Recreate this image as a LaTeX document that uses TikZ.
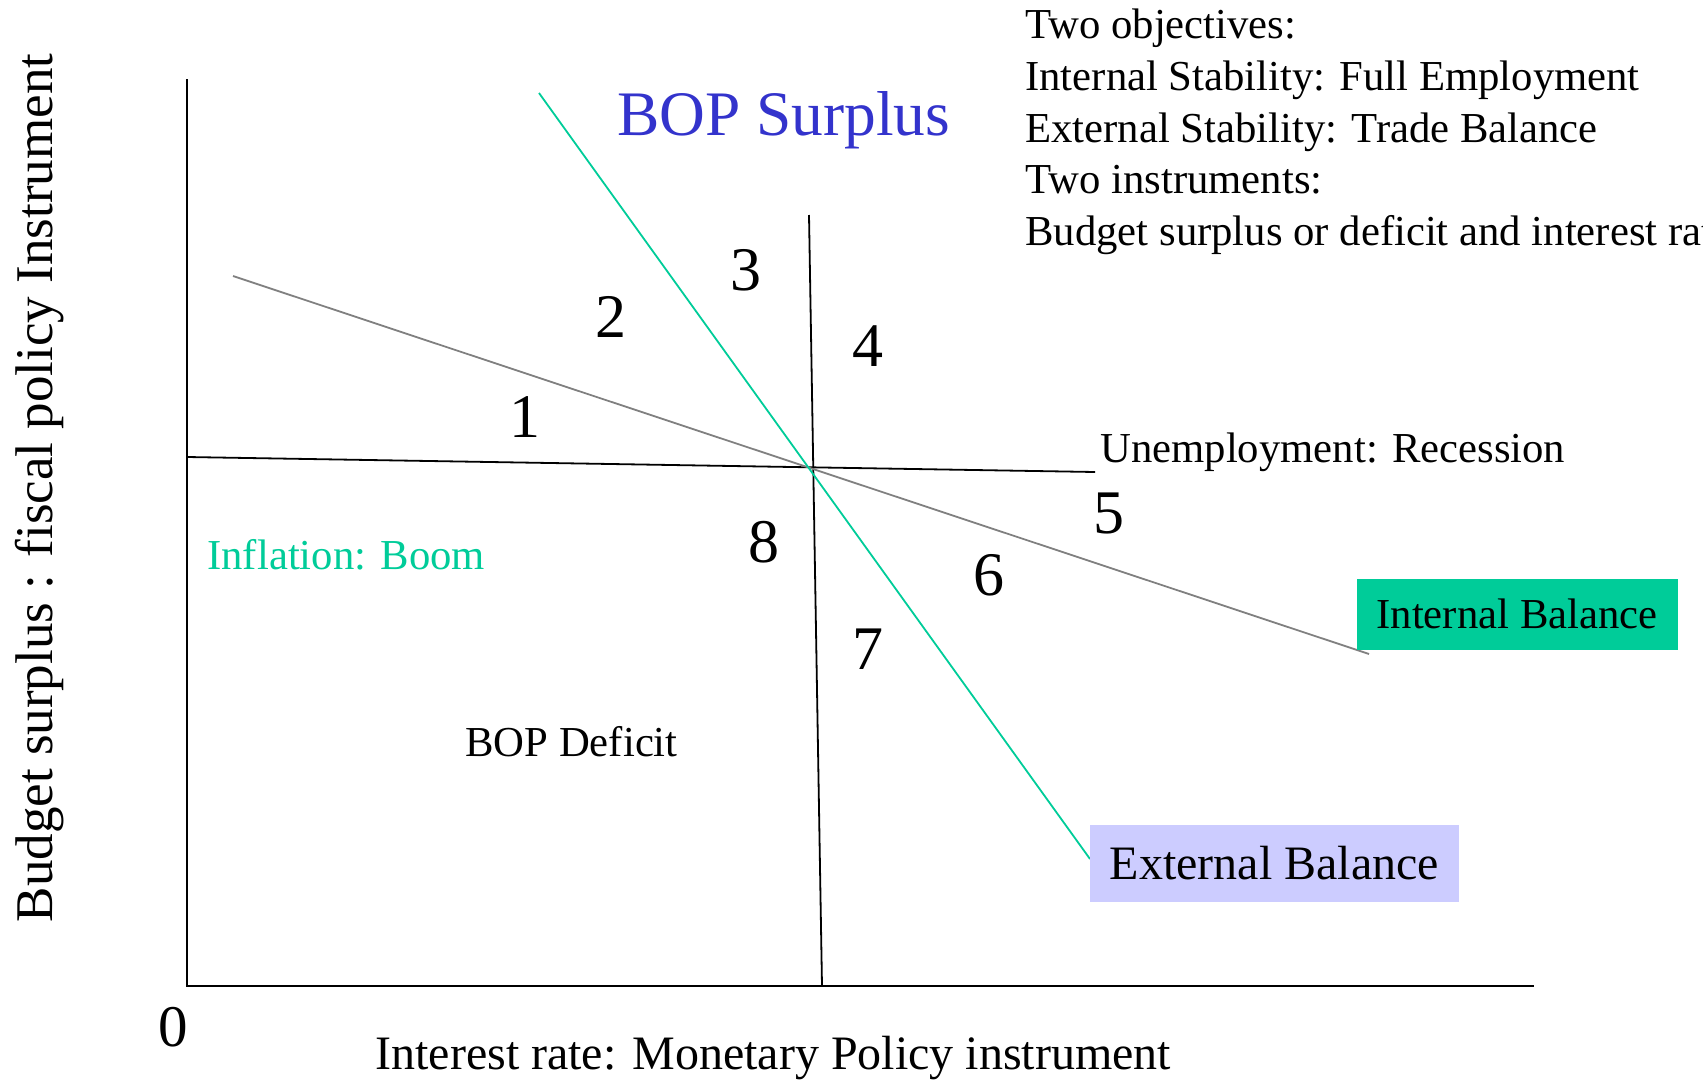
\documentclass[tikz,border=0pt]{standalone}
\usepackage{fontspec}
\setmainfont{Liberation Serif}
\definecolor{egreen}{HTML}{00CC99}
\definecolor{bopblue}{HTML}{3333CC}
\definecolor{lav}{HTML}{CCCCFF}
\definecolor{igray}{HTML}{808080}
\begin{document}
\begin{tikzpicture}[x=0.5pt,y=-0.5pt,
  txt/.style={inner sep=0pt, font=\fontsize{21.35pt}{25.6pt}\selectfont},
  num/.style={inner sep=0pt, font=\fontsize{31pt}{37pt}\selectfont},
  blackline/.style={draw=black, line width=0.9pt},
  grayline/.style={draw=igray, line width=0.9pt},
  greenline/.style={draw=egreen, line width=0.9pt}]
\useasboundingbox (0,0) rectangle (1703,1082);
\clip (0,0) rectangle (1703,1082);
% coordinates
\coordinate (ytop) at (187,79);
\coordinate (orig) at (187,986);
\coordinate (xend) at (1534,986);
\coordinate (hl) at (187,457);
\coordinate (hr) at (1095,472);
\coordinate (vt) at (809,215);
\coordinate (vb) at (822,986);
\coordinate (gl) at (233,276);
\coordinate (gr) at (1369,654);
\coordinate (et) at (539,93);
\coordinate (eb) at (1090,859);
% lines
\draw[blackline] (ytop) -- (orig) -- (xend);
\draw[blackline] (hl) -- (hr);
\draw[blackline] (vt) -- (vb);
\draw[grayline] (gl) -- (gr);
\draw[greenline] (et) -- (eb);
% boxes
\node[txt, fill=egreen, minimum width=160.5pt, minimum height=35.5pt] (ib) at (1517,614) {Internal Balance};
\node[inner sep=0pt, fill=lav, minimum width=184.5pt, minimum height=38.5pt, font=\fontsize{24pt}{29pt}\selectfont] (eball) at (1274.5,863.5) {External Balance};
% texts
\node[inner sep=0pt, anchor=base west, text=bopblue, font=\fontsize{31.7pt}{38pt}\selectfont] (bops) at (617,135) {BOP Surplus};
\node[txt, anchor=base west] (t1) at (1025,38) {Two objectives:};
\node[txt, anchor=base west] (t2) at (1025,90) {Internal Stability: Full Employment};
\node[txt, anchor=base west] (t3) at (1025,142) {External Stability: Trade Balance};
\node[txt, anchor=base west] (t4) at (1025,193) {Two instruments:};
\node[txt, anchor=base west] (t5) at (1025,245) {Budget surplus or deficit and interest rate};
\node[txt, anchor=base west] (unemp) at (1100,462) {Unemployment: Recession};
\node[txt, anchor=base west, text=egreen] (infl) at (207,569) {Inflation: Boom};
\node[txt, anchor=base west] (bopd) at (465,756) {BOP Deficit};
% numbers
\node[num] (n1) at (525,417) {1};
\node[num] (n2) at (611,317) {2};
\node[num] (n3) at (746,270) {3};
\node[num] (n4) at (868,346) {4};
\node[num] (n5) at (1109,513) {5};
\node[num] (n6) at (989,575) {6};
\node[num] (n7) at (868,649) {7};
\node[num] (n8) at (764,542) {8};
\node[inner sep=0pt, font=\fontsize{29.5pt}{35pt}\selectfont] (zero) at (173,1027) {0};
% axis labels
\node[inner sep=0pt, anchor=base west, font=\fontsize{24pt}{29pt}\selectfont] (xlab) at (375,1069) {Interest rate: Monetary Policy instrument};
\node[inner sep=0pt, anchor=base, rotate=90, font=\fontsize{26.5pt}{32pt}\selectfont] (ylab) at (52,488) {Budget surplus : fiscal policy Instrument};
\end{tikzpicture}
\end{document}
